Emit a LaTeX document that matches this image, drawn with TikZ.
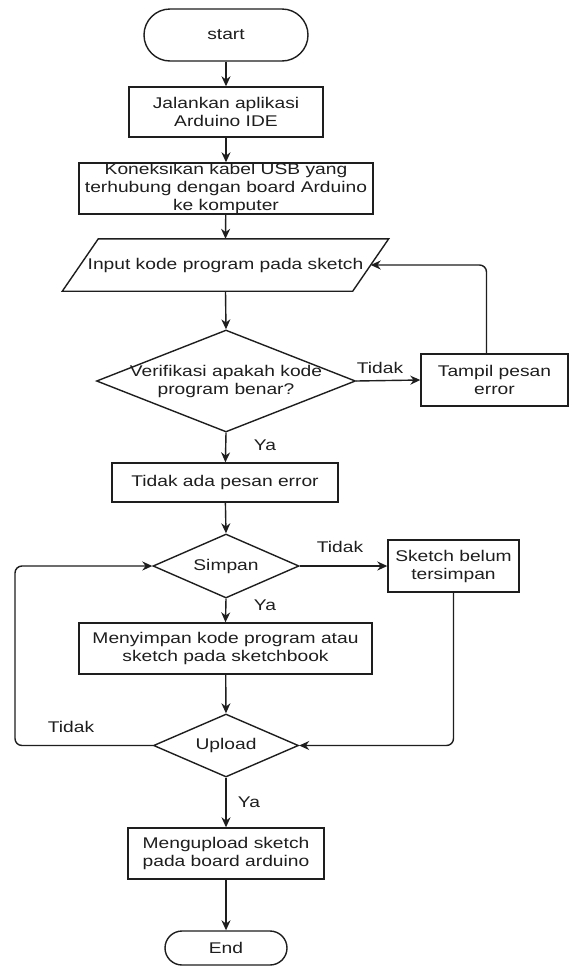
\documentclass[tikz,border=0pt]{standalone}
\usepackage{fontspec}
\setmainfont[FakeStretch=1.24]{Liberation Sans}
\usetikzlibrary{shapes.geometric,arrows.meta}
\newcommand{\fcfont}{\fontsize{15.5}{18}\selectfont}
\definecolor{ink}{HTML}{1E1E1E}
\tikzset{
  base/.style={draw=ink, line width=1.4pt, text=ink, font=\fcfont, align=center, inner sep=0pt},
  proc/.style={base, rectangle},
  term/.style={base, rectangle},
  dec/.style={draw=ink, line width=1.4pt, diamond, inner sep=0pt},
  txt/.style={text=ink, font=\fcfont, align=center, inner sep=0pt},
  arr/.style={draw=ink, line width=1.4pt, -{Stealth[length=10pt,width=9pt]}},
  loopline/.style={arr, rounded corners=7pt}
}
\begin{document}
\begin{tikzpicture}[x=1pt,y=-1pt]
\useasboundingbox (0,0) rectangle (571,967);
\fill[white] (0,0) rectangle (571,967);

% nodes
\node[term, rounded corners=26pt, minimum width=164pt, minimum height=52pt] (start) at (226,35) {start};
\node[proc, minimum width=194pt, minimum height=50pt] (b1) at (226,112) {Jalankan aplikasi\\Arduino IDE};
\node[proc, minimum width=294pt, minimum height=51pt] (b2) at (226,188.5) {Koneksikan kabel USB yang\\terhubung dengan board Arduino\\ke komputer};
\node[txt, minimum width=290pt, minimum height=52pt] (in) at (225.5,265) {Input kode program pada sketch};
\draw[draw=ink, line width=1.4pt] ([xshift=18pt]in.north west) -- ([xshift=18pt]in.north east) -- ([xshift=-18pt]in.south east) -- ([xshift=-18pt]in.south west) -- cycle;

\node[dec, minimum width=259pt, minimum height=102pt] (d1) at (226,381) {};
\node[txt] (d1t) at (226,381) {Verifikasi apakah kode\\program benar?};
\node[proc, minimum width=147pt, minimum height=52pt] (err) at (494.5,380) {Tampil pesan\\error};

\node[proc, minimum width=226pt, minimum height=39pt] (ok) at (225,482.5) {Tidak ada pesan error};

\node[dec, minimum width=146pt, minimum height=64pt] (d2) at (226,566) {};
\node[txt] (d2t) at (226,566) {Simpan};
\node[proc, minimum width=131pt, minimum height=52pt] (sb) at (453.5,566) {Sketch belum\\tersimpan};

\node[proc, minimum width=293pt, minimum height=51pt] (save) at (225.5,648.5) {Menyimpan kode program atau\\sketch pada sketchbook};

\node[dec, minimum width=145pt, minimum height=63pt] (d3) at (226,745.5) {};
\node[txt] (d3t) at (226,745.5) {Upload};

\node[proc, minimum width=196pt, minimum height=51pt] (up) at (226,853.5) {Mengupload sketch\\pada board arduino};
\node[term, rounded corners=17pt, minimum width=122pt, minimum height=34pt] (end) at (226,948) {End};

% labels
\node[txt] (l1) at (380,368) {Tidak};
\node[txt] (l2) at (265,445) {Ya};
\node[txt] (l3) at (340,547) {Tidak};
\node[txt] (l4) at (265,605) {Ya};
\node[txt] (l5) at (71,727) {Tidak};
\node[txt] (l6) at (249,802) {Ya};

\coordinate (lx) at (15,656);

% connectors
\draw[arr] (start) -- (b1);
\draw[arr] (b1) -- (b2);
\draw[arr] (b2) -- (in.north);
\draw[arr] (in.south) -- (d1.north);
\draw[arr] (d1.south) -- (ok);
\draw[arr] (d1.east) -- (err.west);
\draw[loopline] ([xshift=-8pt]err.north) |- (in.east);
\draw[arr] (ok) -- (d2.north);
\draw[arr] (d2.east) -- (sb.west);
\draw[arr] (d2.south) -- (save.north);
\draw[arr] (save) -- (d3.north);
\draw[loopline] (sb.south) |- (d3.east);
\draw[loopline] (d3.west) -| (lx) |- (d2.west);
\draw[arr] (d3.south) -- (up.north);
\draw[arr] (up) -- (end);
\end{tikzpicture}
\end{document}
